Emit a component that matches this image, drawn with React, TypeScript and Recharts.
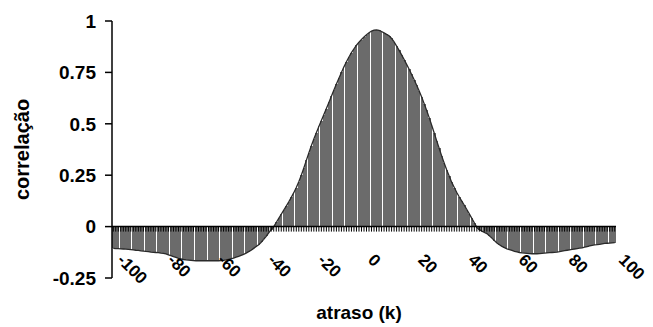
import React from "react";
import {
  ComposedChart,
  Bar,
  Line,
  XAxis,
  YAxis,
  ReferenceLine,
} from "recharts";

// lag k, from -100 to 100
const lags: number[] = [
  -100, -99, -98, -97, -96, -95, -94, -93, -92, -91, -90, -89, -88, -87, -86, -85, -84, -83, -82, -81,
  -80, -79, -78, -77, -76, -75, -74, -73, -72, -71, -70, -69, -68, -67, -66, -65, -64, -63, -62, -61,
  -60, -59, -58, -57, -56, -55, -54, -53, -52, -51, -50, -49, -48, -47, -46, -45, -44, -43, -42, -41,
  -40, -39, -38, -37, -36, -35, -34, -33, -32, -31, -30, -29, -28, -27, -26, -25, -24, -23, -22, -21,
  -20, -19, -18, -17, -16, -15, -14, -13, -12, -11, -10, -9, -8, -7, -6, -5, -4, -3, -2, -1,
  0, 1, 2, 3, 4, 5, 6, 7, 8, 9, 10, 11, 12, 13, 14, 15, 16, 17, 18, 19,
  20, 21, 22, 23, 24, 25, 26, 27, 28, 29, 30, 31, 32, 33, 34, 35, 36, 37, 38, 39,
  40, 41, 42, 43, 44, 45, 46, 47, 48, 49, 50, 51, 52, 53, 54, 55, 56, 57, 58, 59,
  60, 61, 62, 63, 64, 65, 66, 67, 68, 69, 70, 71, 72, 73, 74, 75, 76, 77, 78, 79,
  80, 81, 82, 83, 84, 85, 86, 87, 88, 89, 90, 91, 92, 93, 94, 95, 96, 97, 98, 99,
  100,
];

// correlation, one per lag
const correlation: number[] = [
  // -100 .. -81
  -0.106, -0.107, -0.107, -0.108, -0.109, -0.11, -0.111, -0.112, -0.113, -0.115,
  -0.116, -0.118, -0.119, -0.121, -0.122, -0.124, -0.125, -0.126, -0.127, -0.129,
  // -80 .. -61
  -0.13, -0.133, -0.137, -0.141, -0.146, -0.15, -0.154, -0.157, -0.16, -0.162,
  -0.163, -0.164, -0.165, -0.166, -0.166, -0.166, -0.166, -0.166, -0.166, -0.166,
  // -60 .. -41
  -0.166, -0.166, -0.166, -0.165, -0.164, -0.162, -0.159, -0.156, -0.153, -0.149,
  -0.145, -0.14, -0.135, -0.129, -0.122, -0.115, -0.106, -0.097, -0.088, -0.076,
  // -40 .. -21
  -0.062, -0.047, -0.031, -0.015, 0.0, 0.02, 0.04, 0.06, 0.08, 0.1,
  0.12, 0.142, 0.165, 0.19, 0.218, 0.25, 0.285, 0.322, 0.358, 0.393,
  // -20 .. -1
  0.426, 0.457, 0.487, 0.516, 0.545, 0.574, 0.604, 0.634, 0.664, 0.693,
  0.722, 0.75, 0.777, 0.802, 0.825, 0.846, 0.865, 0.882, 0.897, 0.91,
  // 0 .. 19
  0.922, 0.933, 0.943, 0.951, 0.956, 0.957, 0.954, 0.949, 0.942, 0.935,
  0.928, 0.915, 0.898, 0.878, 0.857, 0.835, 0.812, 0.789, 0.765, 0.74,
  // 20 .. 39
  0.714, 0.688, 0.66, 0.63, 0.598, 0.565, 0.53, 0.493, 0.455, 0.417,
  0.38, 0.343, 0.308, 0.275, 0.245, 0.215, 0.19, 0.166, 0.144, 0.124,
  // 40 .. 59
  0.104, 0.083, 0.062, 0.04, 0.018, -0.004, -0.015, -0.022, -0.028, -0.034,
  -0.045, -0.056, -0.068, -0.08, -0.088, -0.096, -0.102, -0.108, -0.112, -0.116,
  // 60 .. 79
  -0.12, -0.123, -0.126, -0.128, -0.129, -0.13, -0.131, -0.132, -0.132, -0.132,
  -0.131, -0.13, -0.129, -0.128, -0.127, -0.126, -0.125, -0.124, -0.122, -0.119,
  // 80 .. 99
  -0.117, -0.115, -0.113, -0.111, -0.109, -0.107, -0.105, -0.103, -0.1, -0.097,
  -0.094, -0.091, -0.089, -0.088, -0.086, -0.084, -0.082, -0.081, -0.08, -0.079,
  // 100
  -0.078,
];

const yTicks = [-0.25, 0, 0.25, 0.5, 0.75, 1];
const labelEvery = 20;

const W = 653;
const H = 327;
const PLOT_LEFT = 112;
const PLOT_RIGHT = 616;
const PLOT_TOP = 21;
const PLOT_BOTTOM = 278;
const Y_MIN = -0.25;
const Y_MAX = 1;
const ZERO_Y = PLOT_TOP + ((Y_MAX - 0) / (Y_MAX - Y_MIN)) * (PLOT_BOTTOM - PLOT_TOP);
// recharts floors bar widths to whole pixels, so draw them at the band's real width
const BAND = (PLOT_RIGHT - PLOT_LEFT) / lags.length;
// the scanned original shows a thin white seam every few bars
const SEAM_EVERY = 5;

const FONT = "'Liberation Sans', Arial, sans-serif";

const data = lags.map((k, i) => ({ lag: k, r: correlation[i] }));

function BarShape(props: {
  x?: number;
  y?: number;
  width?: number;
  height?: number;
  fill?: string;
  index?: number;
}) {
  const { x = 0, y = 0, width = 0, height = 0, fill, index = 0 } = props;
  const cx = x + width / 2;
  const left = Math.round(cx - BAND / 2);
  let right = Math.round(cx + BAND / 2);
  if (index % SEAM_EVERY === 2) right -= 1;
  const top = Math.min(y, y + height);
  const h = Math.abs(height);
  return (
    <rect
      x={left}
      y={top}
      width={Math.max(right - left, 1)}
      height={h}
      fill={fill}
      shapeRendering="crispEdges"
    />
  );
}

function LagTick(props: { x?: number; y?: number; payload?: { value: number } }) {
  const { x = 0, payload } = props;
  const v = payload ? payload.value : 0;
  const showLabel = v % labelEvery === 0;
  const lx = x + 3;
  const ly = PLOT_BOTTOM - 17;
  return (
    <g>
      <line x1={x} x2={x} y1={ZERO_Y} y2={ZERO_Y + 5} stroke="#000" strokeWidth={1} />
      {showLabel && (
        <text
          x={lx}
          y={ly}
          transform={`rotate(45, ${lx}, ${ly})`}
          textAnchor="start"
          fontFamily={FONT}
          fontWeight="bold"
          fontSize={17}
          fill="#000"
        >
          {v}
        </text>
      )}
    </g>
  );
}

function YTitle(props: { viewBox?: { x: number; y: number; width: number; height: number } }) {
  const vb = props.viewBox || { x: 0, y: PLOT_TOP, width: 112, height: PLOT_BOTTOM - PLOT_TOP };
  const cx = vb.x + 29;
  const cy = vb.y + vb.height / 2;
  return (
    <text
      x={cx}
      y={cy}
      transform={`rotate(-90, ${cx}, ${cy})`}
      textAnchor="middle"
      fontFamily={FONT}
      fontWeight="bold"
      fontSize={20}
      fill="#000"
    >
      correlação
    </text>
  );
}

function XTitle(props: { viewBox?: { x: number; y: number; width: number; height: number } }) {
  const vb = props.viewBox || { x: PLOT_LEFT, y: PLOT_BOTTOM, width: PLOT_RIGHT - PLOT_LEFT, height: 49 };
  return (
    <text
      x={vb.x + vb.width / 2 - 5}
      y={vb.y + 41}
      textAnchor="middle"
      fontFamily={FONT}
      fontWeight="bold"
      fontSize={19}
      fill="#000"
    >
      atraso (k)
    </text>
  );
}

export default function App() {
  return (
    <div style={{ position: "absolute", left: 0, top: 0, background: "#fff" }}>
      <ComposedChart
        width={W}
        height={H}
        data={data}
        margin={{ top: PLOT_TOP, right: W - PLOT_RIGHT, bottom: 0, left: 0 }}
        barCategoryGap={0}
      >
        <XAxis
          dataKey="lag"
          interval={0}
          height={H - PLOT_BOTTOM}
          tick={<LagTick />}
          tickLine={false}
          axisLine={false}
          label={<XTitle />}
        />
        <YAxis
          width={PLOT_LEFT}
          domain={[Y_MIN, Y_MAX]}
          ticks={yTicks}
          interval={0}
          tickSize={7}
          tickMargin={9}
          axisLine={{ stroke: "#000", strokeWidth: 1.5 }}
          tickLine={{ stroke: "#000", strokeWidth: 1.5 }}
          tick={{ fill: "#000", fontSize: 19, fontWeight: "bold", fontFamily: FONT }}
          label={<YTitle />}
        />
        <Bar
          dataKey="r"
          fill="#6b6b6b"
          shape={<BarShape />}
          isAnimationActive={false}
        />
        <Line
          dataKey="r"
          type="linear"
          stroke="#2a2a2a"
          strokeWidth={1.3}
          dot={false}
          activeDot={false}
          isAnimationActive={false}
        />
        <ReferenceLine y={0} stroke="#000" strokeWidth={1.5} />
      </ComposedChart>
    </div>
  );
}
